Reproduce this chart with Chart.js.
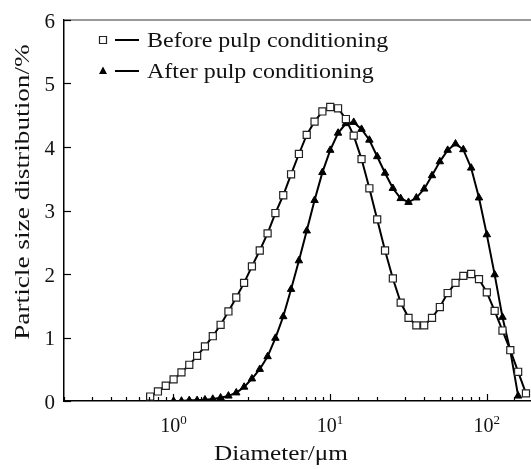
<!DOCTYPE html>
<html><head><meta charset="utf-8">
<script src="https://cdn.jsdelivr.net/npm/chart.js@4.4.0/dist/chart.umd.min.js"></script>
<style>html,body{margin:0;padding:0;background:#fff;overflow:hidden}#wrap{width:540px;height:469px}
#probe{font-family:"Liberation Serif";position:absolute;left:-1000px;top:0}</style>
</head><body><div id="wrap"><canvas id="c" width="540" height="469"></canvas></div><span id="probe">Ab</span>
<script>
const diameters = [0.710,0.796,0.893,1.002,1.125,1.262,1.416,1.589,1.783,2.000,2.244,2.518,2.825,3.170,3.557,3.991,4.477,5.024,5.637,6.325,7.096,7.962,8.934,10.024,11.247,12.619,14.159,15.887,17.825,20.000,22.440,25.179,28.251,31.698,35.566,39.905,44.774,50.238,56.368,63.246,70.963,79.621,89.337,100.237,112.468,126.191,141.589,158.866,178.250];
const beforeValues = [0.07,0.15,0.24,0.34,0.45,0.57,0.71,0.86,1.02,1.20,1.41,1.63,1.86,2.12,2.37,2.64,2.96,3.24,3.57,3.89,4.19,4.40,4.56,4.63,4.61,4.44,4.18,3.81,3.35,2.86,2.37,1.93,1.55,1.31,1.19,1.19,1.31,1.48,1.70,1.86,1.97,2.00,1.92,1.71,1.42,1.11,0.80,0.46,0.12];
const afterValues = [null,null,null,0.00,0.00,0.01,0.01,0.02,0.03,0.05,0.08,0.13,0.22,0.35,0.50,0.70,0.99,1.33,1.76,2.21,2.68,3.16,3.60,3.95,4.22,4.37,4.39,4.28,4.11,3.85,3.59,3.35,3.19,3.13,3.20,3.34,3.55,3.77,3.95,4.05,3.96,3.67,3.20,2.62,1.99,1.32,0.79,0.08,null];
const yTicks = [0,1,2,3,4,5,6];
const xMajorTicks = [1,10,100];
const xMajorLabels = [['10','0'],['10','1'],['10','2']];
const legendLabels = ['Before pulp conditioning','After pulp conditioning'];
const xTitle = 'Diameter/\u03bcm';
const yTitle = 'Particle size distribution/%';

const FONT = '"Liberation Serif", "Times New Roman", Tinos, serif';
function txt(ctx, s, x, y, size, align, sx, rot) {
  ctx.save();
  ctx.translate(x, y);
  if (rot) ctx.rotate(rot);
  ctx.scale(sx || 1, 1);
  ctx.font = size + 'px ' + FONT;
  ctx.fillStyle = '#111';
  ctx.textAlign = align;
  ctx.textBaseline = 'alphabetic';
  ctx.fillText(s, 0, 0);
  ctx.restore();
}
function drawSquare(ctx, x, y) {
  ctx.save(); ctx.fillStyle = '#fff'; ctx.strokeStyle = '#222'; ctx.lineWidth = 1.2;
  ctx.beginPath(); ctx.rect(x - 3.5, y - 3.5, 7, 7); ctx.fill(); ctx.stroke(); ctx.restore();
}
function drawTri(ctx, x, y) {
  ctx.save(); ctx.fillStyle = '#000';
  ctx.beginPath(); ctx.moveTo(x, y - 4.5); ctx.lineTo(x + 4, y + 3); ctx.lineTo(x - 4, y + 3); ctx.closePath(); ctx.fill(); ctx.restore();
}

const deco = {
  id: 'deco',
  afterDraw(chart) {
    const ctx = chart.ctx, a = chart.chartArea;
    const xs = chart.scales.x, ys = chart.scales.y;
    ctx.save();
    ctx.strokeStyle = '#777'; ctx.lineWidth = 1.5;
    ctx.beginPath(); ctx.moveTo(a.left, a.top); ctx.lineTo(a.right, a.top); ctx.stroke();
    ctx.strokeStyle = '#000'; ctx.lineWidth = 1.2;
    xs.ticks.forEach(t => {
      const v = t.value;
      const lg = Math.log10(v);
      const major = Math.abs(lg - Math.round(lg)) < 1e-6;
      const px = Math.round(xs.getPixelForValue(v)) + 0.5;
      const len = major ? 7 : 4;
      ctx.beginPath(); ctx.moveTo(px, a.bottom); ctx.lineTo(px, a.bottom - len); ctx.stroke();
    });
    yTicks.forEach(v => {
      const py = Math.round(ys.getPixelForValue(v)) + 0.5;
      ctx.beginPath(); ctx.moveTo(a.left, py); ctx.lineTo(a.left + 7, py); ctx.stroke();
    });
    yTicks.forEach(v => {
      txt(ctx, String(v), a.left - 9, ys.getPixelForValue(v) + 7.5, 21, 'right', 1);
    });
    xMajorTicks.forEach((v, i) => {
      const px = xs.getPixelForValue(v);
      ctx.font = '20px ' + FONT; const w1 = ctx.measureText(xMajorLabels[i][0]).width;
      ctx.font = '13px ' + FONT; const w2 = ctx.measureText(xMajorLabels[i][1]).width;
      const x0 = px - (w1 + w2) / 2;
      txt(ctx, xMajorLabels[i][0], x0, 432, 20, 'left', 1);
      txt(ctx, xMajorLabels[i][1], x0 + w1, 424, 13, 'left', 1);
    });
    txt(ctx, xTitle, (a.left + 498) / 2, 460, 21, 'center', 1.2);
    txt(ctx, yTitle, 29, 192, 21, 'center', 1.3, -Math.PI / 2);
    ctx.strokeStyle = '#000'; ctx.lineWidth = 2;
    const rows = [40, 71];
    rows.forEach((ry, i) => {
      ctx.beginPath(); ctx.moveTo(115, ry); ctx.lineTo(139, ry); ctx.stroke();
      if (i === 0) drawSquare(ctx, 103, ry); else drawTri(ctx, 103, ry);
      txt(ctx, legendLabels[i], 147, ry + 7, 20, 'left', 1.2);
    });
    ctx.restore();
  }
};

function build() {
  new Chart(document.getElementById('c'), {
    type: 'line',
    data: {
      datasets: [
        {
          label: legendLabels[0],
          data: diameters.map((d, i) => ({x: d, y: beforeValues[i]})),
          borderColor: '#000', borderWidth: 2, tension: 0,
          pointStyle: 'rect', pointRadius: 5, pointBackgroundColor: '#fff',
          pointBorderColor: '#222', pointBorderWidth: 1.2
        },
        {
          label: legendLabels[1],
          data: diameters.map((d, i) => ({x: d, y: afterValues[i]})).filter(p => p.y !== null),
          borderColor: '#000', borderWidth: 2, tension: 0,
          pointStyle: 'triangle', pointRadius: 4.3, pointBackgroundColor: '#000',
          pointBorderColor: '#000', pointBorderWidth: 1
        }
      ]
    },
    options: {
      responsive: false, animation: false, devicePixelRatio: 1,
      layout: {padding: {top: 20, right: 4, left: 0, bottom: 0}},
      plugins: {legend: {display: false}, tooltip: {enabled: false}},
      scales: {
        x: {
          type: 'logarithmic', min: 0.2, max: 200,
          grid: {display: false}, border: {display: true, color: '#000', width: 1.5},
          ticks: {display: false, autoSkip: false},
          afterFit(s) { s.height = 68; }
        },
        y: {
          type: 'linear', min: 0, max: 6,
          grid: {display: false}, border: {display: true, color: '#000', width: 1.5},
          ticks: {display: false, stepSize: 1},
          afterFit(s) { s.width = 64; }
        }
      }
    },
    plugins: [deco]
  });
}
Promise.all([
  document.fonts.load('20px "Liberation Serif"'),
  document.fonts.load('13px "Liberation Serif"')
]).then(build, build);
</script>
</body></html>
